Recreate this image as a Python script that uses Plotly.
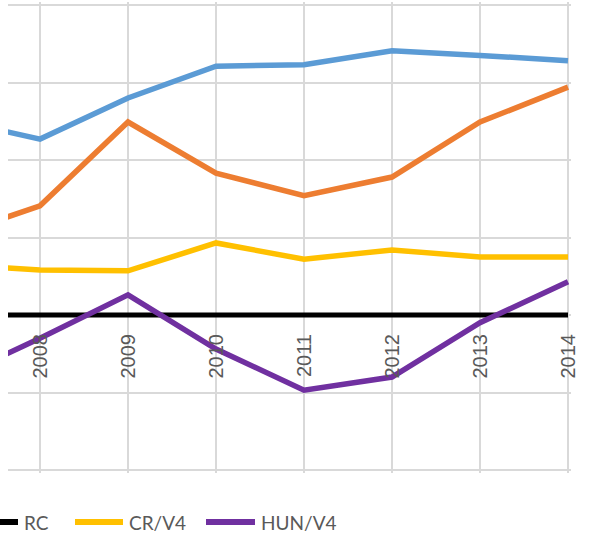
import plotly.graph_objects as go

years = [2007, 2008, 2009, 2010, 2011, 2012, 2013, 2014]
tick_years = [2008, 2009, 2010, 2011, 2012, 2013, 2014]
tick_labels = ["2008", "2009", "2010", "2011", "2012", "2013", "2014"]

blue_vals = [25.2, 22.7, 28.0, 32.1, 32.3, 34.1, 33.5, 32.8]
orange_vals = [10.2, 14.1, 24.9, 18.3, 15.4, 17.8, 24.9, 29.4]
rc_vals = [0, 0, 0, 0, 0, 0, 0, 0]
cr_vals = [6.5, 5.8, 5.7, 9.3, 7.2, 8.4, 7.5, 7.5]
hun_vals = [-8.3, -3.0, 2.6, -4.4, -9.7, -8.0, -1.0, 4.3]

legend_names = ["RC", "CR/V4", "HUN/V4"]
legend_colors = ["#000000", "#ffc000", "#7030a0"]

W, H = 591, 558
ML, MR, MT, MB = 8, 20, 2, 85
PW, PH = W - ML - MR, H - MT - MB
PX_PER_YEAR = 88.0
PX_PER_UNIT = 7.75
EXTRA = 3.0  # pixels of room so edge grid lines are drawn


def px_x(p):
    return (p - ML) / PW


def px_y(p):
    return (H - MB - p) / PH


fig = go.Figure()
fig.add_trace(go.Scatter(x=years, y=blue_vals, mode="lines", name="",
                         line=dict(color="#5b9bd5", width=5.5), showlegend=False))
fig.add_trace(go.Scatter(x=years, y=orange_vals, mode="lines", name="",
                         line=dict(color="#ed7d31", width=5.5), showlegend=False))
fig.add_trace(go.Scatter(x=years, y=rc_vals, mode="lines", name=legend_names[0],
                         line=dict(color=legend_colors[0], width=5), showlegend=False))
fig.add_trace(go.Scatter(x=years, y=cr_vals, mode="lines", name=legend_names[1],
                         line=dict(color=legend_colors[1], width=5.5), showlegend=False))
fig.add_trace(go.Scatter(x=years, y=hun_vals, mode="lines", name=legend_names[2],
                         line=dict(color=legend_colors[2], width=5.5), showlegend=False))

# custom legend (symbol line + label), placed like the original
sym_x = [(-31, 18), (75, 123), (206, 255)]
txt_x = [22, 127, 259]
leg_y = 522
for name, col, (x0, x1), tx in zip(legend_names, legend_colors, sym_x, txt_x):
    fig.add_shape(type="line", xref="paper", yref="paper",
                  x0=px_x(x0), x1=px_x(x1), y0=px_y(leg_y), y1=px_y(leg_y),
                  line=dict(color=col, width=6))
    fig.add_annotation(xref="paper", yref="paper", x=px_x(tx), y=px_y(leg_y),
                       xanchor="left", yanchor="middle", showarrow=False, text=name,
                       font=dict(family="Lato", size=19, color="#595959"))

x_lo = 2014 - (568 - ML) / PX_PER_YEAR
x_hi = 2014 + EXTRA / PX_PER_YEAR
y_lo = -20 - EXTRA / PX_PER_UNIT
y_hi = 40 + EXTRA / PX_PER_UNIT
zero_pos = (0 - y_lo) / (y_hi - y_lo)

fig.update_layout(
    width=W, height=H,
    margin=dict(l=ML, r=MR, t=MT, b=MB, autoexpand=False),
    paper_bgcolor="white", plot_bgcolor="white",
    showlegend=False,
    xaxis=dict(range=[x_lo, x_hi], tickvals=tick_years, ticktext=tick_labels,
               tickangle=-90, showgrid=True, gridcolor="#d9d9d9", gridwidth=2,
               showline=False, zeroline=False, anchor="free", position=zero_pos,
               ticks="", ticklabelstandoff=14, automargin=False,
               tickfont=dict(family="Liberation Sans", size=20, color="#595959")),
    yaxis=dict(range=[y_lo, y_hi], dtick=10, showticklabels=False, showgrid=True,
               gridcolor="#d9d9d9", gridwidth=2, zeroline=False, showline=False,
               automargin=False),
)

fig.write_html("out.html", config={"displayModeBar": False},
               post_script="document.body.style.margin='0';")
